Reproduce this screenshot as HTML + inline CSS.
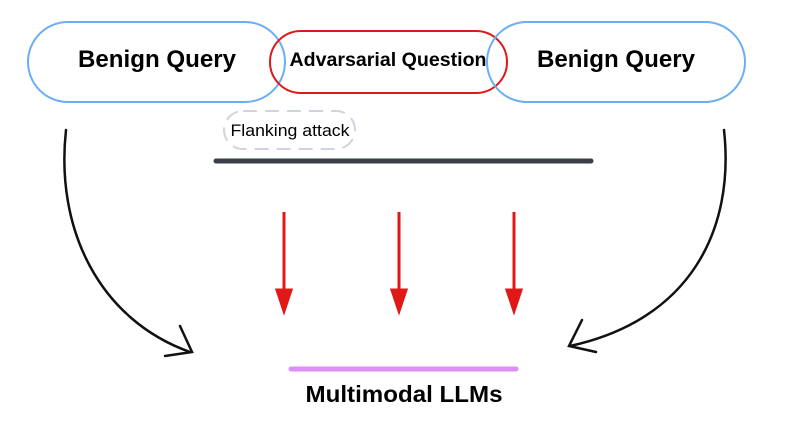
<!DOCTYPE html>
<html><head><style>
body{margin:0;background:#fff;}
svg{display:block;font-family:"Liberation Sans",sans-serif;}
</style></head><body>
<svg width="795" height="430" viewBox="0 0 795 430">
<rect x="28" y="22" width="257" height="80" rx="40" fill="none" stroke="#6aaef5" stroke-width="2"/>
<rect x="270" y="31" width="237" height="62" rx="31" fill="none" stroke="#e01818" stroke-width="2"/>
<rect x="487" y="22" width="258" height="80" rx="40" fill="none" stroke="#6aaef5" stroke-width="2"/>
<text x="157" y="67" font-size="24" font-weight="bold" text-anchor="middle" textLength="158" lengthAdjust="spacingAndGlyphs">Benign Query</text>
<text x="388" y="66" font-size="19" font-weight="bold" text-anchor="middle" textLength="197" lengthAdjust="spacingAndGlyphs">Advarsarial Question</text>
<text x="616" y="67" font-size="24" font-weight="bold" text-anchor="middle" textLength="158" lengthAdjust="spacingAndGlyphs">Benign Query</text>
<rect x="224" y="111" width="131" height="38" rx="19" fill="none" stroke="#d0d4dc" stroke-width="2" stroke-dasharray="14 8"/>
<text x="290" y="136" font-size="17" text-anchor="middle" textLength="119" lengthAdjust="spacingAndGlyphs">Flanking attack</text>
<line x1="216" y1="161" x2="591" y2="161" stroke="#3a3f47" stroke-width="5" stroke-linecap="round"/>
<g stroke="#e01818" stroke-width="3" fill="#e01818">
<line x1="284" y1="212" x2="284" y2="292"/><polygon points="277,290 291,290 284,311"/>
<line x1="399" y1="212" x2="399" y2="292"/><polygon points="392,290 406,290 399,311"/>
<line x1="514" y1="212" x2="514" y2="292"/><polygon points="507,290 521,290 514,311"/>
</g>
<g fill="none" stroke="#111" stroke-width="2.5" stroke-linecap="round">
<path d="M66 130 C55 230 100 320 190 352"/>
<path d="M180 326 L192 352 L165 356"/>
<path d="M724 130 C735 230 690 320 570 346"/>
<path d="M582 320 L569 346 L596 352"/>
</g>
<line x1="291" y1="369" x2="516" y2="369" stroke="#dd8ff5" stroke-width="5" stroke-linecap="round"/>
<text x="404" y="402" font-size="23" font-weight="bold" text-anchor="middle" textLength="197" lengthAdjust="spacingAndGlyphs">Multimodal LLMs</text>
</svg>
</body></html>
